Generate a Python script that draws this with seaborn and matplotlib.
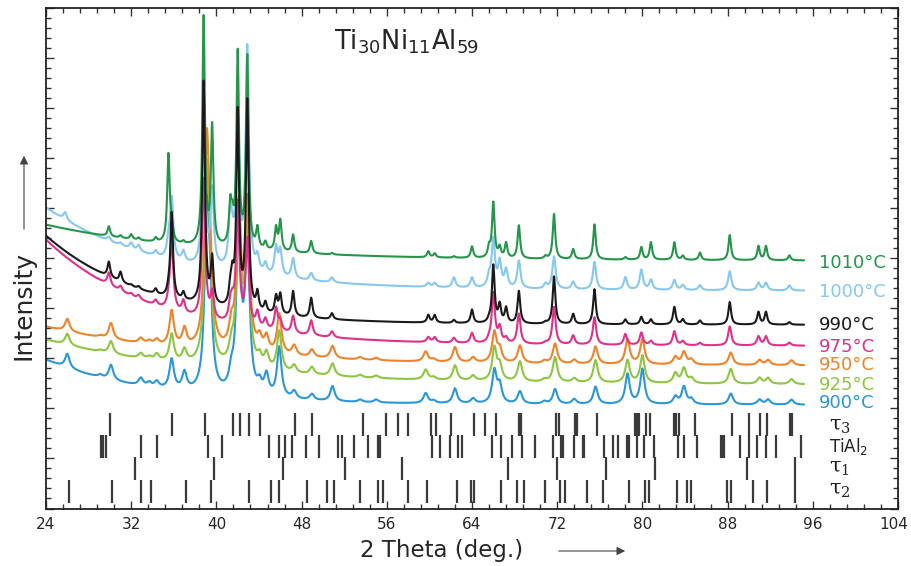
import numpy as np
import pandas as pd
import matplotlib
matplotlib.use("Agg")
import matplotlib.pyplot as plt
import matplotlib.transforms as mtransforms
import seaborn as sns
from matplotlib.ticker import MultipleLocator, NullFormatter

# ---------------- data ----------------
TEMPS = ["900°C", "925°C", "950°C", "975°C", "990°C", "1000°C", "1010°C"]
COLORS = ["#2a97d8", "#8dc63f", "#f0832a", "#e0308a", "#1a1a1a", "#86c8ee", "#23964a"]
DRAW_ORDER = ["900°C", "925°C", "950°C", "975°C", "1000°C", "1010°C", "990°C"]

# baseline: level at the right end, extra at 2θ=24, decay length (deg)
BASE_END = [2.07, 2.47, 2.85, 3.25, 3.67, 4.35, 4.95]
BASE_AMP = [0.90, 0.90, 0.78, 2.12, 1.78, 1.66, 0.72]
BASE_DECAY = [10.0, 16.0, 15.5, 10.5, 9.5, 11.5, 15.0]
PEAK_HWHM = [0.25, 0.25, 0.25, 0.18, 0.15, 0.18, 0.14]

# peak positions (2θ) for the low-temperature patterns (900-950 °C)
LOW_POS = [26.0, 29.1, 30.1, 32.9, 33.7, 34.4, 35.8, 37.0, 39.1, 39.4, 41.4, 42.1, 42.9,
           44.05, 44.7, 45.9, 47.3, 48.97, 50.9, 53.5, 55.0, 59.65, 60.4, 62.4, 64.1,
           66.1, 66.6, 68.5, 70.8, 71.8, 73.6, 75.6, 78.6, 80.0, 83.1, 83.9, 84.6,
           88.3, 91.0, 91.8, 94.0]
H_950 = [0.25, 0.03, 0.32, 0.10, 0.06, 0.10, 0.70, 0.35, 3.9, 1.2, 0.4, 2.8, 2.9,
         0.25, 0.3, 0.8, 0.2, 0.15, 0.25, 0.05, 0.05, 0.2, 0.05, 0.3, 0.1,
         0.6, 0.25, 0.35, 0.05, 0.4, 0.08, 0.35, 0.5, 0.5, 0.15, 0.25, 0.1,
         0.25, 0.1, 0.1, 0.1]
H_925 = [0.22, 0.03, 0.25, 0.10, 0.05, 0.12, 0.55, 0.25, 3.6, 1.2, 0.3, 3.0, 3.0,
         0.2, 0.3, 0.8, 0.15, 0.15, 0.25, 0.05, 0.05, 0.2, 0.05, 0.3, 0.1,
         0.65, 0.3, 0.4, 0.05, 0.5, 0.08, 0.45, 0.45, 0.55, 0.2, 0.3, 0.1,
         0.3, 0.12, 0.12, 0.1]
H_900 = [0.28, 0.05, 0.30, 0.15, 0.08, 0.12, 0.60, 0.35, 3.3, 1.5, 0.3, 3.4, 3.2,
         0.2, 0.4, 1.0, 0.15, 0.12, 0.3, 0.05, 0.06, 0.2, 0.05, 0.3, 0.1,
         0.65, 0.35, 0.25, 0.05, 0.3, 0.1, 0.35, 0.6, 0.7, 0.15, 0.35, 0.1,
         0.22, 0.1, 0.1, 0.1]

# peak positions (2θ) for the high-temperature patterns (975-1010 °C)
HIGH_POS = [25.8, 29.9, 31.0, 32.0, 32.7, 34.3, 35.5, 35.8, 36.9, 38.8, 39.6, 41.3, 41.5,
            42.0, 42.9, 43.85, 44.6, 45.6, 46.0, 47.2, 48.9, 50.85, 59.9, 60.5, 62.3,
            64.0, 65.6, 66.0, 66.6, 67.2, 68.4, 70.9, 71.7, 73.5, 75.5, 78.4, 79.9,
            80.8, 83.0, 83.8, 85.4, 88.2, 90.9, 91.6, 93.8]
H_1010 = [0.0, 0.2, 0.05, 0.1, 0.05, 0.08, 1.75, 0.3, 0.05, 4.55, 2.35, 0.75, 0.4,
          3.85, 3.8, 0.4, 0.15, 0.45, 0.6, 0.35, 0.25, 0.03, 0.12, 0.08, 0.03,
          0.23, 0.2, 1.1, 0.2, 0.3, 0.66, 0.05, 0.9, 0.2, 0.7, 0.05, 0.25,
          0.35, 0.35, 0.08, 0.15, 0.5, 0.28, 0.28, 0.1]
H_1000 = [0.15, 0.08, 0.05, 0.12, 0.12, 0.1, 0.3, 1.2, 0.2, 2.7, 1.5, 1.0, 0.3,
          3.0, 4.45, 0.28, 0.2, 0.55, 0.5, 0.4, 0.15, 0.1, 0.08, 0.08, 0.2,
          0.2, 0.2, 0.95, 0.5, 0.35, 0.55, 0.1, 0.65, 0.15, 0.55, 0.25, 0.4,
          0.2, 0.2, 0.1, 0.1, 0.38, 0.15, 0.15, 0.1]
H_990 = [0.0, 0.3, 0.2, 0.03, 0.05, 0.1, 0.1, 1.7, 0.15, 4.45, 0.9, 0.3, 0.5,
         3.9, 4.15, 0.35, 0.2, 0.35, 0.4, 0.5, 0.4, 0.12, 0.15, 0.15, 0.06,
         0.27, 0.05, 1.15, 0.35, 0.3, 0.65, 0.03, 0.95, 0.2, 0.7, 0.1, 0.15,
         0.1, 0.35, 0.1, 0.08, 0.45, 0.25, 0.25, 0.05]
H_975 = [0.0, 0.25, 0.1, 0.05, 0.08, 0.1, 0.1, 1.4, 0.24, 2.8, 0.5, 0.3, 0.3,
         2.4, 1.7, 0.3, 0.2, 0.45, 0.2, 0.35, 0.3, 0.12, 0.1, 0.1, 0.1,
         0.2, 0.05, 1.0, 0.3, 0.1, 0.6, 0.03, 0.75, 0.18, 0.55, 0.22, 0.25,
         0.08, 0.28, 0.08, 0.05, 0.38, 0.18, 0.18, 0.06]

# reference reflection positions (2θ)
TAU3 = [29.99, 35.86, 38.89, 41.57, 42.26, 43.10, 44.07, 47.34, 48.97, 53.80, 55.90, 57.08,
        57.96, 60.12, 60.58, 62.02, 64.20, 65.2, 66.3, 68.4, 68.6, 71.9, 72.2, 73.7, 73.9,
        75.7, 79.3, 79.5, 79.7, 80.3, 80.7, 83.0, 83.2, 83.4, 84.9, 88.45, 90.01, 91.04,
        91.73, 93.9, 94.05]
TIAL2 = [29.15, 29.37, 29.62, 32.96, 34.46, 39.20, 40.54, 44.91, 45.85, 46.41, 47.10, 48.41,
         49.66, 51.41, 51.84, 52.96, 54.27, 55.15, 55.37, 60.21, 60.99, 61.92, 62.70, 63.02,
         65.88, 66.76, 67.75, 68.69, 69.94, 71.59, 72.35, 72.5, 73.56, 74.4, 74.55, 76.37,
         77.21, 77.75, 78.6, 78.75, 79.5, 80.18, 81.12, 83.3, 83.93, 85.08, 87.4, 87.55,
         87.7, 89.17, 90.01, 90.73, 91.57, 92.51, 94.85]
TAU1 = [32.33, 39.82, 46.22, 52.09, 57.46, 67.38, 72.0, 76.59, 81.18, 89.85, 94.29]
TAU2 = [26.12, 30.18, 32.96, 33.83, 37.17, 39.51, 43.10, 45.16, 45.85, 48.50, 50.38, 51.00,
        53.50, 55.15, 55.68, 58.02, 59.80, 62.55, 63.89, 64.20, 66.70, 68.26, 68.88, 70.82,
        72.22, 72.69, 74.81, 76.28, 78.78, 80.25, 80.65, 83.24, 84.18, 84.55, 87.98, 88.29,
        90.41, 91.73, 94.29]
PHASE_LABELS = ["τ3", "TiAl2", "τ1", "τ2"]
X_TICKS = [24, 32, 40, 48, 56, 64, 72, 80, 88, 96, 104]

# ---------------- build patterns ----------------
x = np.arange(24.0, 95.2, 0.02)
peak_sets = {
    "900°C": (LOW_POS, H_900), "925°C": (LOW_POS, H_925), "950°C": (LOW_POS, H_950),
    "975°C": (HIGH_POS, H_975), "990°C": (HIGH_POS, H_990),
    "1000°C": (HIGH_POS, H_1000), "1010°C": (HIGH_POS, H_1010),
}
frames = []
for i, t in enumerate(TEMPS):
    pos, hts = peak_sets[t]
    g = PEAK_HWHM[i]
    y = BASE_END[i] + BASE_AMP[i] * np.exp(-(x - 24.0) / BASE_DECAY[i])
    for p, h in zip(pos, hts):
        y = y + h * g * g / ((x - p) ** 2 + g * g)
    frames.append(pd.DataFrame({"two_theta": x, "intensity": y, "temp": t}))
df = pd.concat(frames, ignore_index=True)
palette = dict(zip(TEMPS, COLORS))

# ---------------- figure ----------------
sns.set_style("ticks")
plt.rcParams["font.family"] = ["DejaVu Sans"]
W, H = 911, 566
fig = plt.figure(figsize=(W / 100, H / 100), dpi=100)
ax = fig.add_axes([46 / W, 1 - 508.5 / H, (898 - 46) / W, 500.5 / H])

sns.lineplot(data=df, x="two_theta", y="intensity", hue="temp", hue_order=DRAW_ORDER,
             palette=palette, estimator=None, sort=False, lw=1.5, legend=False, ax=ax)

# reference reflection marks
rows = [(TAU3, 1.45, 1.91), (TIAL2, 1.01, 1.47), (TAU1, 0.57, 1.03), (TAU2, 0.11, 0.57)]
for vals, lo, hi in rows:
    ax.vlines(vals, lo, hi, colors="#3a3a3a", lw=1.6)

ax.set_xlim(24, 104)
ax.set_ylim(0, 10)
ax.set_xticks(X_TICKS)
ax.xaxis.set_minor_locator(MultipleLocator(1.6))
ax.yaxis.set_major_locator(MultipleLocator(1))
ax.yaxis.set_minor_locator(MultipleLocator(0.2))
ax.yaxis.set_major_formatter(NullFormatter())
ax.tick_params(which="both", direction="in", top=True, right=True, width=1.0, color="#333333")
ax.tick_params(which="major", length=6, labelsize=11, pad=6)
ax.tick_params(which="minor", length=3.5)
for s in ax.spines.values():
    s.set_linewidth(1.3)
    s.set_color("#222222")
ax.set_xlabel("")
ax.set_ylabel("")
# keep the last tick label ("104") inside the canvas
fig.canvas.draw()
last = ax.get_xticklabels()[-1]
last.set_transform(last.get_transform() +
                   mtransforms.ScaledTranslation(-4 / 100, 0, fig.dpi_scale_trans))

# temperature labels
label_y = {"1010°C": 4.91, "1000°C": 4.33, "990°C": 3.67, "975°C": 3.23,
           "950°C": 2.87, "925°C": 2.47, "900°C": 2.11}
for t in TEMPS:
    ax.text(96.6, label_y[t], t, color=palette[t], fontsize=13, ha="left", va="center")

# phase labels
phase_y = [1.63, 1.23, 0.79, 0.35]
for lab, yy in zip(PHASE_LABELS, phase_y):
    if lab == "TiAl2":
        ax.text(97.5, yy, r"TiAl$_2$", fontsize=12, ha="left", va="center", color="#222222")
    else:
        ax.text(97.5, yy, "τ" + r"$_{" + lab[1] + "}$", fontsize=15, ha="left", va="center",
                color="#222222", family=["DejaVu Serif"], math_fontfamily="dejavuserif")

# title
ax.text(51.0, 9.33, r"Ti$_{30}$Ni$_{11}$Al$_{59}$", fontsize=18.5, ha="left", va="center")

# axis labels with arrows
fig.text(23 / W, 1 - 305 / H, "Intensity", rotation=90, fontsize=18, ha="center", va="center")
fig.add_artist(matplotlib.patches.FancyArrowPatch(
    (24 / W, 1 - 232 / H), (24 / W, 1 - 153 / H), transform=fig.transFigure,
    arrowstyle="-|>,head_length=5,head_width=2.5", color="#444444", lw=0.8))
fig.text(442 / W, 1 - 551 / H, "2 Theta (deg.)", fontsize=16.5, ha="center", va="center")
fig.add_artist(matplotlib.patches.FancyArrowPatch(
    (556 / W, 1 - 551 / H), (628 / W, 1 - 551 / H), transform=fig.transFigure,
    arrowstyle="-|>,head_length=5,head_width=2.5", color="#444444", lw=0.8))

fig.savefig("out.png", dpi=100)
